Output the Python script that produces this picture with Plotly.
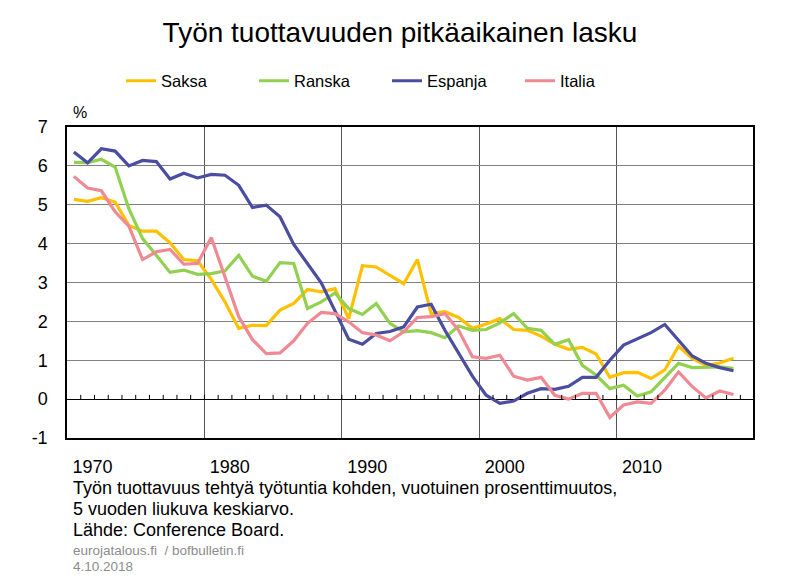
import plotly.graph_objects as go

years = list(range(1969, 2018))

saksa = [5.14, 5.09, 5.18, 5.07, 4.47, 4.32, 4.32, 4.02, 3.59, 3.56,
         3.08, 2.50, 1.82, 1.90, 1.89, 2.29, 2.46, 2.82, 2.76, 2.84,
         2.07, 3.43, 3.40, 3.19, 2.97, 3.59, 2.20, 2.25, 2.10, 1.82,
         1.93, 2.07, 1.79, 1.77, 1.62, 1.41, 1.28, 1.33, 1.16, 0.56,
         0.68, 0.69, 0.53, 0.75, 1.36, 1.05, 0.87, 0.93, 1.05]

ranska = [6.09, 6.08, 6.17, 5.97, 4.90, 4.13, 3.70, 3.26, 3.32, 3.21,
          3.23, 3.30, 3.70, 3.16, 3.03, 3.51, 3.49, 2.33, 2.50, 2.73,
          2.33, 2.18, 2.46, 1.95, 1.73, 1.76, 1.71, 1.58, 1.88, 1.77,
          1.79, 1.96, 2.20, 1.82, 1.77, 1.41, 1.53, 0.87, 0.62, 0.27,
          0.36, 0.08, 0.19, 0.57, 0.92, 0.81, 0.83, 0.83, 0.79]

espanja = [6.36, 6.08, 6.44, 6.38, 6.00, 6.14, 6.11, 5.66, 5.81, 5.69,
           5.78, 5.76, 5.50, 4.93, 4.99, 4.69, 3.98, 3.49, 2.99, 2.27,
           1.54, 1.41, 1.69, 1.74, 1.86, 2.37, 2.44, 1.77, 1.17, 0.59,
           0.10, -0.11, -0.05, 0.15, 0.27, 0.25, 0.33, 0.56, 0.56, 1.00,
           1.39, 1.54, 1.71, 1.92, 1.50, 1.11, 0.92, 0.81, 0.73]

italia = [5.73, 5.43, 5.36, 4.82, 4.45, 3.59, 3.79, 3.85, 3.47, 3.49,
          4.16, 3.14, 2.12, 1.53, 1.17, 1.19, 1.50, 1.95, 2.23, 2.20,
          1.99, 1.71, 1.65, 1.50, 1.73, 2.10, 2.12, 2.20, 1.77, 1.09,
          1.05, 1.13, 0.59, 0.49, 0.56, 0.10, 0.00, 0.15, 0.15, -0.47,
          -0.15, -0.07, -0.11, 0.23, 0.70, 0.32, 0.03, 0.21, 0.12]

series_names = ["Saksa", "Ranska", "Espanja", "Italia"]
series_colors = ["#FFC000", "#92D050", "#4A4DA0", "#EF8A95"]
series_values = [saksa, ranska, espanja, italia]

x_tick_labels = ["1970", "1980", "1990", "2000", "2010"]
y_tick_values = [-1, 0, 1, 2, 3, 4, 5, 6, 7]

note_lines = ["Työn tuottavuus tehtyä työtuntia kohden, vuotuinen prosenttimuutos,",
              "5 vuoden liukuva keskiarvo.",
              "Lähde: Conference Board."]
source_lines = ["eurojatalous.fi  / bofbulletin.fi", "4.10.2018"]

FONT = "Liberation Sans, Arial, sans-serif"
W, H = 800, 581
L, R, T, B = 67, 753, 127, 438


def px_x(px):
    return (px - L) / (R - L)


def px_y(py):
    return (B - py) / (B - T)


fig = go.Figure()
for name, color, vals in zip(series_names, series_colors, series_values):
    fig.add_trace(go.Scatter(x=years, y=vals, name=name, mode="lines",
                             line=dict(color=color, width=3.2)))

# small tick marks on the zero line at category boundaries
shapes = []
for y in years:
    b = y + 0.5
    shapes.append(dict(type="line", xref="x", yref="y", x0=b, x1=b, y0=0, y1=0.11,
                       line=dict(color="black", width=1), layer="above"))
fig.update_layout(shapes=shapes)

fig.update_layout(
    width=W, height=H,
    paper_bgcolor="white", plot_bgcolor="white",
    margin=dict(l=L, r=W - R, t=T, b=H - B),
    font=dict(family=FONT, color="black"),
    title=dict(text="Työn tuottavuuden pitkäaikainen lasku",
               x=0.5, xref="container", xanchor="center",
               y=1 - 32 / H, yref="container", yanchor="middle",
               font=dict(size=28, color="black")),
    legend=dict(orientation="h", xref="container", yref="container",
                x=121 / W, y=1 - 81 / H, xanchor="left", yanchor="middle",
                entrywidth=88, entrywidthmode="pixels",
                font=dict(size=16.5), bgcolor="rgba(0,0,0,0)",
                itemwidth=30),
    showlegend=True,
)

fig.update_xaxes(
    range=[1968.5, 2018.42],
    tickmode="array",
    tickvals=[int(t) + 0.35 for t in x_tick_labels],
    ticktext=x_tick_labels,
    ticks="", showgrid=False,
    tickfont=dict(size=18),
    ticklabelstandoff=12,
    minor=dict(tick0=1968.5, dtick=10, showgrid=True, gridcolor="#555555", gridwidth=1, ticks=""),
    showline=True, mirror=True, linecolor="black", linewidth=1.5,
    zeroline=False, automargin=False,
)
fig.update_yaxes(
    range=[-1, 7],
    tickmode="array", tickvals=y_tick_values,
    ticktext=[str(v) for v in y_tick_values],
    showgrid=True, gridcolor="#808080", gridwidth=1.3,
    zeroline=True, zerolinecolor="black", zerolinewidth=1.3,
    tickfont=dict(size=18), ticks="",
    ticklabelstandoff=14,
    showline=True, mirror=True, linecolor="black", linewidth=1.5,
    automargin=False,
)

annotations = [
    dict(text="%", x=px_x(80), y=px_y(112), xanchor="center", yanchor="middle",
         showarrow=False, font=dict(size=16)),
]
for text, yc in zip(note_lines, [488, 509, 530]):
    annotations.append(dict(text=text, x=px_x(71), y=px_y(yc), xanchor="left",
                            yanchor="middle", align="left", showarrow=False,
                            font=dict(size=18)))
for text, yc in zip(source_lines, [550, 566]):
    annotations.append(dict(text=text, x=px_x(71), y=px_y(yc), xanchor="left",
                            yanchor="middle", align="left", showarrow=False,
                            font=dict(size=13.5, color="#8C8C8C")))
for a in annotations:
    a["xref"] = "paper"
    a["yref"] = "paper"
fig.update_layout(annotations=annotations)

fig.write_html("out.html", config={"displayModeBar": False},
               post_script="document.body.style.margin='0';")
